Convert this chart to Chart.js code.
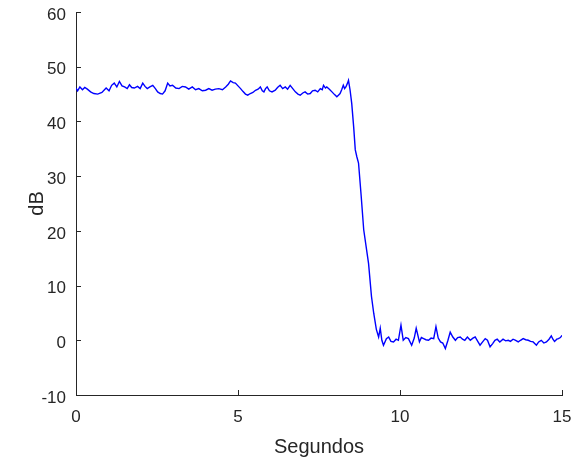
<!DOCTYPE html>
<html>
<head>
<meta charset="utf-8">
<script src="https://cdn.jsdelivr.net/npm/chart.js@4.4.0/dist/chart.umd.min.js"></script>
<style>
  html, body { margin: 0; padding: 0; background: #fff; }
  #wrap { width: 572px; height: 461px; }
</style>
</head>
<body>
<div id="wrap"><canvas id="grafico"></canvas></div>
<script>
// tiempo en segundos, nivel en dB
let tiempo = [
  0.00, 0.05, 0.12, 0.20, 0.27, 0.35, 0.45, 0.55, 0.67, 0.80, 0.93, 1.02, 1.10, 1.18, 1.26, 1.34,
  1.42, 1.50, 1.58, 1.65, 1.72, 1.80, 1.90, 1.98, 2.06, 2.13, 2.20, 2.28, 2.37, 2.45, 2.52, 2.60,
  2.67, 2.75, 2.83, 2.90, 2.98, 3.08, 3.18, 3.28, 3.38, 3.48, 3.59, 3.69, 3.79, 3.90, 4.00, 4.10,
  4.20, 4.30, 4.41, 4.52, 4.62, 4.70, 4.77, 4.85, 4.92, 5.00, 5.08, 5.15, 5.23, 5.30, 5.38, 5.46,
  5.54, 5.62, 5.69, 5.75, 5.80, 5.85, 5.90, 5.97, 6.05, 6.15, 6.22, 6.30, 6.38, 6.46, 6.53, 6.61,
  6.69, 6.77, 6.85, 6.92, 7.00, 7.07, 7.15, 7.23, 7.30, 7.38, 7.46, 7.54, 7.60, 7.64, 7.70, 7.74,
  7.82, 7.90, 7.98, 8.05, 8.10, 8.15, 8.20, 8.25, 8.29, 8.33, 8.38, 8.41, 8.46, 8.51, 8.57, 8.62,
  8.67, 8.72, 8.80, 8.88, 9.03, 9.12, 9.19, 9.27, 9.34, 9.39, 9.44, 9.49, 9.58, 9.65, 9.72, 9.80,
  9.88, 9.95, 10.03, 10.10, 10.18, 10.26, 10.36, 10.44, 10.50, 10.60, 10.66, 10.73, 10.80, 10.88,
  10.96, 11.04, 11.11, 11.18, 11.25, 11.32, 11.40, 11.48, 11.55, 11.63, 11.71, 11.78, 11.86, 11.93,
  12.00, 12.08, 12.17, 12.25, 12.32, 12.40, 12.47, 12.55, 12.63, 12.70, 12.78, 12.86, 12.93, 13.00,
  13.08, 13.18, 13.26, 13.34, 13.41, 13.49, 13.57, 13.65, 13.72, 13.80, 13.88, 13.96, 14.03, 14.11,
  14.21, 14.28, 14.36, 14.44, 14.52, 14.60, 14.67, 14.72, 14.77, 14.84, 14.89, 14.95, 15.00
];
let nivel = [
  46.1, 45.6, 46.3, 45.8, 46.2, 45.9, 45.4, 45.1, 45.0, 45.3, 46.1, 45.6, 46.6, 47.0, 46.3, 47.3,
  46.5, 46.3, 46.0, 46.7, 46.2, 46.1, 46.4, 46.0, 47.0, 46.4, 46.0, 46.3, 46.6, 46.0, 45.4, 45.1,
  45.0, 45.6, 47.0, 46.5, 46.6, 46.1, 46.0, 46.4, 46.3, 45.9, 46.3, 45.8, 46.0, 45.6, 45.7, 46.0,
  45.7, 45.9, 46.0, 45.8, 46.3, 46.8, 47.4, 47.1, 47.0, 46.5, 46.0, 45.5, 45.0, 44.8, 45.1, 45.3,
  45.7, 45.9, 46.3, 45.6, 45.4, 46.0, 46.3, 45.6, 45.4, 45.7, 46.2, 46.6, 46.0, 46.3, 45.9, 46.6,
  46.0, 45.4, 45.0, 44.8, 45.2, 45.4, 45.0, 45.1, 45.6, 45.7, 45.4, 46.0, 45.8, 46.6, 46.1, 46.3,
  45.9, 45.4, 44.9, 44.5, 44.8, 45.1, 45.8, 46.6, 46.0, 46.3, 47.0, 47.5, 45.7, 43.3, 39.0, 34.8,
  33.5, 32.4, 26.5, 20.2, 14.0, 8.0, 4.9, 2.0, 0.6, 2.2, 0.0, -0.9, 0.3, 0.6, -0.2, -0.3,
  0.2, 0.0, 2.76, 0.0, 0.5, 0.3, -0.9, 0.4, 2.2, -0.3, 0.5, 0.3, 0.1, 0.0,
  0.4, 0.3, 2.5, 0.4, -0.3, -0.5, -1.5, 0.0, 1.5, 0.6, 0.0, 0.5, 0.6, 0.2,
  0.0, 0.6, 0.0, 0.4, 0.6, -0.2, -0.9, -0.3, 0.3, 0.0, -1.2, -0.6, 0.0, 0.2,
  -0.3, 0.2, -0.1, 0.0, -0.2, 0.2, 0.0, -0.3, 0.0, 0.3, 0.1, 0.0, -0.2, -0.3,
  -0.9, -0.3, 0.0, -0.5, -0.3, 0.2, 0.8, 0.2, -0.2, 0.2, 0.3, 0.5, 0.9
];
let ticksX = [0, 5, 10, 15];
let ticksY = [-10, 0, 10, 20, 30, 40, 50, 60];

let colorEje = '#262626';

// marcas de los ejes hacia dentro, como en matlab
let marcasDentro = {
  id: 'marcasDentro',
  afterDraw(chart) {
    let ctx = chart.ctx;
    let x = chart.scales.x;
    let y = chart.scales.y;
    let a = chart.chartArea;
    ctx.save();
    ctx.strokeStyle = colorEje;
    ctx.lineWidth = 1;
    ctx.beginPath();
    ticksX.forEach(v => {
      let px = Math.round(x.getPixelForValue(v)) + 0.5;
      ctx.moveTo(px, a.bottom);
      ctx.lineTo(px, a.bottom - 5);
    });
    ticksY.forEach(v => {
      let py = Math.round(y.getPixelForValue(v)) + 0.5;
      ctx.moveTo(a.left, py);
      ctx.lineTo(a.left + 5, py);
    });
    ctx.stroke();
    ctx.restore();
  }
};

new Chart(document.getElementById('grafico'), {
  type: 'line',
  data: {
    datasets: [{
      data: tiempo.map((t, i) => ({ x: t, y: nivel[i] })),
      borderColor: '#0000ff',
      borderWidth: 1.4,
      pointRadius: 0,
      tension: 0,
      fill: false
    }]
  },
  options: {
    responsive: true,
    maintainAspectRatio: false,
    animation: false,
    layout: { padding: { left: 0, right: 10, top: 12, bottom: 0 } },
    plugins: {
      legend: { display: false },
      tooltip: { enabled: false }
    },
    scales: {
      x: {
        type: 'linear',
        min: 0,
        max: 15,
        afterBuildTicks(scale) {
          scale.ticks = ticksX.map(v => ({ value: v }));
        },
        afterFit(scale) {
          scale.height = 66;
          scale.paddingLeft = 0;
          scale.paddingRight = 0;
        },
        grid: { drawOnChartArea: false, drawTicks: false },
        border: { display: true, color: colorEje, width: 1 },
        ticks: {
          color: colorEje,
          padding: 12,
          maxRotation: 0,
          font: { family: 'Liberation Sans, Arial, sans-serif', size: 17 }
        },
        title: {
          display: true,
          text: 'Segundos',
          color: colorEje,
          padding: { top: 0, bottom: 2 },
          font: { family: 'Liberation Sans, Arial, sans-serif', size: 20 }
        }
      },
      y: {
        type: 'linear',
        min: -10,
        max: 60,
        afterBuildTicks(scale) {
          scale.ticks = ticksY.map(v => ({ value: v }));
        },
        afterFit(scale) {
          scale.width = 76;
          scale.paddingTop = 0;
          scale.paddingBottom = 0;
        },
        grid: { drawOnChartArea: false, drawTicks: false },
        border: { display: true, color: colorEje, width: 1 },
        ticks: {
          color: colorEje,
          padding: 10,
          labelOffset: 3,
          font: { family: 'Liberation Sans, Arial, sans-serif', size: 17 }
        },
        title: {
          display: true,
          text: 'dB',
          color: colorEje,
          padding: { top: 25, bottom: 0 },
          font: { family: 'Liberation Sans, Arial, sans-serif', size: 20 }
        }
      }
    }
  },
  plugins: [marcasDentro]
});
</script>
</body>
</html>
